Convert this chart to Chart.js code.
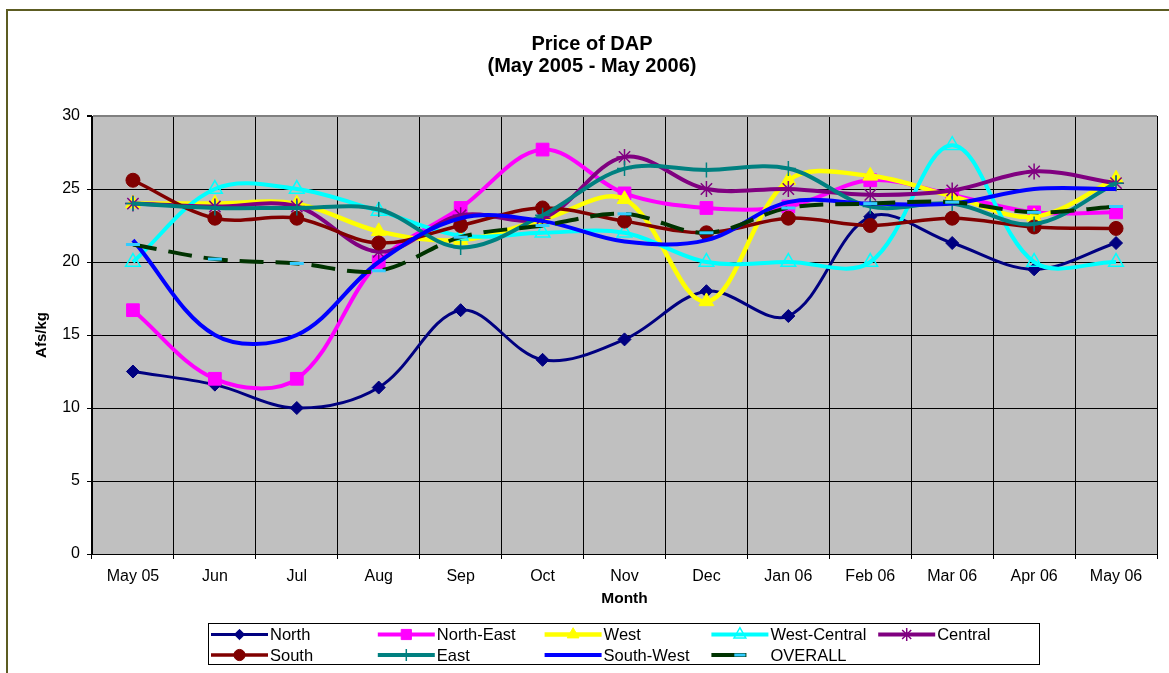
<!DOCTYPE html>
<html>
<head>
<meta charset="utf-8">
<script src="https://cdn.jsdelivr.net/npm/chart.js@4.4.1/dist/chart.umd.min.js"></script>
<style>
html,body{margin:0;padding:0;background:#fff;}
canvas{display:block;}
</style>
</head>
<body>
<canvas id="c" width="1169" height="673"></canvas>
<script>
// ---------- data ----------
const months = ['May 05','Jun','Jul','Aug','Sep','Oct','Nov','Dec','Jan 06','Feb 06','Mar 06','Apr 06','May 06'];
const north       = [12.5,11.6,10.0,11.4,16.7,13.3,14.7,18.0,16.3,23.1,21.3,19.5,21.3];
const northEast   = [16.7,12.0,12.0,20.0,23.7,27.7,24.7,23.7,23.8,25.6,24.6,23.4,23.4];
const west        = [24.0,24.0,24.0,22.1,21.5,22.9,24.3,17.3,25.6,25.9,24.5,23.1,25.7];
const westCentral = [20.0,25.0,25.0,23.5,21.8,22.0,22.0,20.0,20.0,20.0,28.0,20.0,20.0];
const central     = [24.0,23.8,23.8,20.7,23.2,23.0,27.2,25.0,25.0,24.6,24.9,26.2,25.4];
const south       = [25.6,23.0,23.0,21.3,22.5,23.7,22.8,22.0,23.0,22.5,23.0,22.4,22.3];
const east        = [24.0,23.7,23.7,23.6,21.0,23.2,26.4,26.3,26.4,23.8,24.0,22.6,25.4];
const southWest   = [21.5,15.0,15.0,20.0,23.0,22.8,21.4,21.5,24.1,24.0,24.0,25.0,25.0];
const overall     = [21.2,20.2,19.9,19.4,21.7,22.5,23.3,22.0,23.7,24.0,24.1,23.4,23.8];
const yTicks = [0,5,10,15,20,25,30];
const seriesNames = ['North','North-East','West','West-Central','Central','South','East','South-West','OVERALL'];
const seriesValues = [north,northEast,west,westCentral,central,south,east,southWest,overall];
const titleLines = ['Price of DAP','(May 2005 - May 2006)'];

// ---------- styles ----------
const styles = [
  {color:'#000080', width:3,   point:'rectRot',  r:6.5, bg:'#000080', bc:'#000080', bw:1},
  {color:'#FF00FF', width:4,   point:'rect',     r:9,   bg:'#FF00FF', bc:'#FF00FF', bw:1},
  {color:'#FFFF00', width:4.5, point:'triangle', r:8.5, bg:'#FFFF00', bc:'#FFFF00', bw:1},
  {color:'#00FFFF', width:4,   point:'triangle', r:8.5, bg:'rgba(0,0,0,0)', bc:'#00FFFF', bw:1.5},
  {color:'#800080', width:4,   point:'star',     r:8,   bg:'#800080', bc:'#800080', bw:1.5},
  {color:'#800000', width:3.5, point:'circle',   r:7,   bg:'#800000', bc:'#800000', bw:1},
  {color:'#008080', width:4,   point:'cross',    r:7.5, bg:'#008080', bc:'#008080', bw:1.5},
  {color:'#0000FF', width:4,   point:false,      r:0,   bg:'#0000FF', bc:'#0000FF', bw:0},
  {color:'#003300', width:4,   point:'line',     r:7,   bg:'#33CCFF', bc:'#33CCFF', bw:3, dash:[24,12], legendDash:[35,60]}
];

const FONT = '"Liberation Sans", Arial, Helvetica, sans-serif';
Chart.defaults.font.family = FONT;
Chart.defaults.color = '#000';

const datasets = seriesNames.map((name, i) => {
  const s = styles[i];
  return {
    label: name,
    data: seriesValues[i],
    borderColor: s.color,
    backgroundColor: s.color,
    borderWidth: s.width,
    borderDash: s.dash || [],
    tension: 0.35,
    fill: false,
    pointStyle: s.point,
    pointRadius: s.r,
    pointHoverRadius: s.r,
    pointBackgroundColor: s.bg,
    pointBorderColor: s.bc,
    pointBorderWidth: s.bw,
    order: seriesNames.length - i
  };
});

const chartArt = {
  id: 'chartArt',
  beforeDraw(chart) {
    const {ctx, chartArea: a} = chart;
    ctx.save();
    ctx.fillStyle = '#fff';
    ctx.fillRect(0, 0, chart.width, chart.height);
    // outer frame (left & top visible)
    ctx.strokeStyle = '#5C5C22';
    ctx.lineWidth = 2;
    ctx.strokeRect(7, 10, chart.width + 20, chart.height + 20);
    // plot background
    ctx.fillStyle = '#C0C0C0';
    ctx.fillRect(a.left, a.top, a.right - a.left, a.bottom - a.top);
    // title
    ctx.fillStyle = '#000';
    ctx.font = 'bold 20px ' + FONT;
    ctx.textAlign = 'center';
    ctx.textBaseline = 'middle';
    titleLines.forEach((t, k) => ctx.fillText(t, 592, 44 + k * 22));
    ctx.restore();
  },
  afterDraw(chart) {
    const ctx = chart.ctx;
    ctx.save();
    const bx = 208.5, by = 623.5, bw = 831, bh = 41;
    ctx.fillStyle = '#fff';
    ctx.fillRect(bx, by, bw, bh);
    ctx.strokeStyle = '#000';
    ctx.lineWidth = 1;
    ctx.strokeRect(bx, by, bw, bh);
    chart.data.datasets.forEach((ds, i) => {
      const col = i % 5, row = Math.floor(i / 5);
      const x0 = 211 + col * 166.8, y = 634.5 + row * 20.5;
      const st = styles[i];
      ctx.save();
      ctx.beginPath();
      ctx.rect(x0 - 1, y - 10, 59, 20);
      ctx.clip();
      ctx.strokeStyle = ds.borderColor;
      ctx.lineWidth = ds.borderWidth;
      ctx.setLineDash(st.legendDash || ds.borderDash || []);
      ctx.beginPath();
      ctx.moveTo(x0, y);
      ctx.lineTo(x0 + 57, y);
      ctx.stroke();
      ctx.setLineDash([]);
      if (ds.pointStyle && ds.pointRadius > 0 && Chart.helpers && Chart.helpers.drawPoint) {
        ctx.fillStyle = ds.pointBackgroundColor;
        ctx.strokeStyle = ds.pointBorderColor;
        ctx.lineWidth = ds.pointBorderWidth;
        Chart.helpers.drawPoint(ctx, {pointStyle: ds.pointStyle, radius: ds.pointRadius * 0.8, borderWidth: ds.pointBorderWidth, rotation: 0}, x0 + 28.5, y);
      }
      ctx.restore();
      ctx.fillStyle = '#000';
      ctx.font = '16.5px ' + FONT;
      ctx.textAlign = 'left';
      ctx.textBaseline = 'middle';
      ctx.fillText(ds.label, x0 + 59, y + 1);
    });
    ctx.restore();
  }
};

new Chart(document.getElementById('c'), {
  type: 'line',
  data: {labels: months, datasets},
  plugins: [chartArt],
  options: {
    responsive: false,
    animation: false,
    devicePixelRatio: 1,
    layout: {padding: {left: 0, top: 116, right: 12, bottom: 59}},
    plugins: {legend: {display: false}, title: {display: false}, tooltip: {enabled: false}},
    scales: {
      x: {
        type: 'category',
        offset: true,
        grid: {
          offset: true,
          color: (c) => c.index === months.length ? '#808080' : '#000',
          lineWidth: (c) => c.index === months.length ? 2 : 1,
          tickColor: '#000',
          tickLength: 5,
          drawTicks: true
        },
        border: {color: '#000', width: 1},
        ticks: {font: {size: 16}, color: '#000', padding: 8, maxRotation: 0, autoSkip: false},
        title: {display: true, text: 'Month', font: {size: 15.5, weight: 'bold'}, color: '#000', padding: {top: 0, bottom: 6}},
        afterFit: (s) => { s.height = 60; }
      },
      y: {
        min: 0,
        max: 30,
        afterBuildTicks: (s) => { s.ticks = yTicks.map(v => ({value: v})); },
        grid: {
          color: (c) => (c.tick && c.tick.value === 30) ? '#808080' : '#000',
          lineWidth: (c) => (c.tick && c.tick.value === 30) ? 2 : 1,
          tickColor: '#000',
          tickLength: 5
        },
        border: {color: '#000', width: 1},
        ticks: {font: {size: 16}, color: '#000', padding: 7},
        title: {display: true, text: 'Afs/kg', font: {size: 15, weight: 'bold'}, color: '#000', padding: {top: 33, bottom: 0}},
        afterFit: (s) => { s.width = 92; }
      }
    }
  }
});
</script>
</body>
</html>
